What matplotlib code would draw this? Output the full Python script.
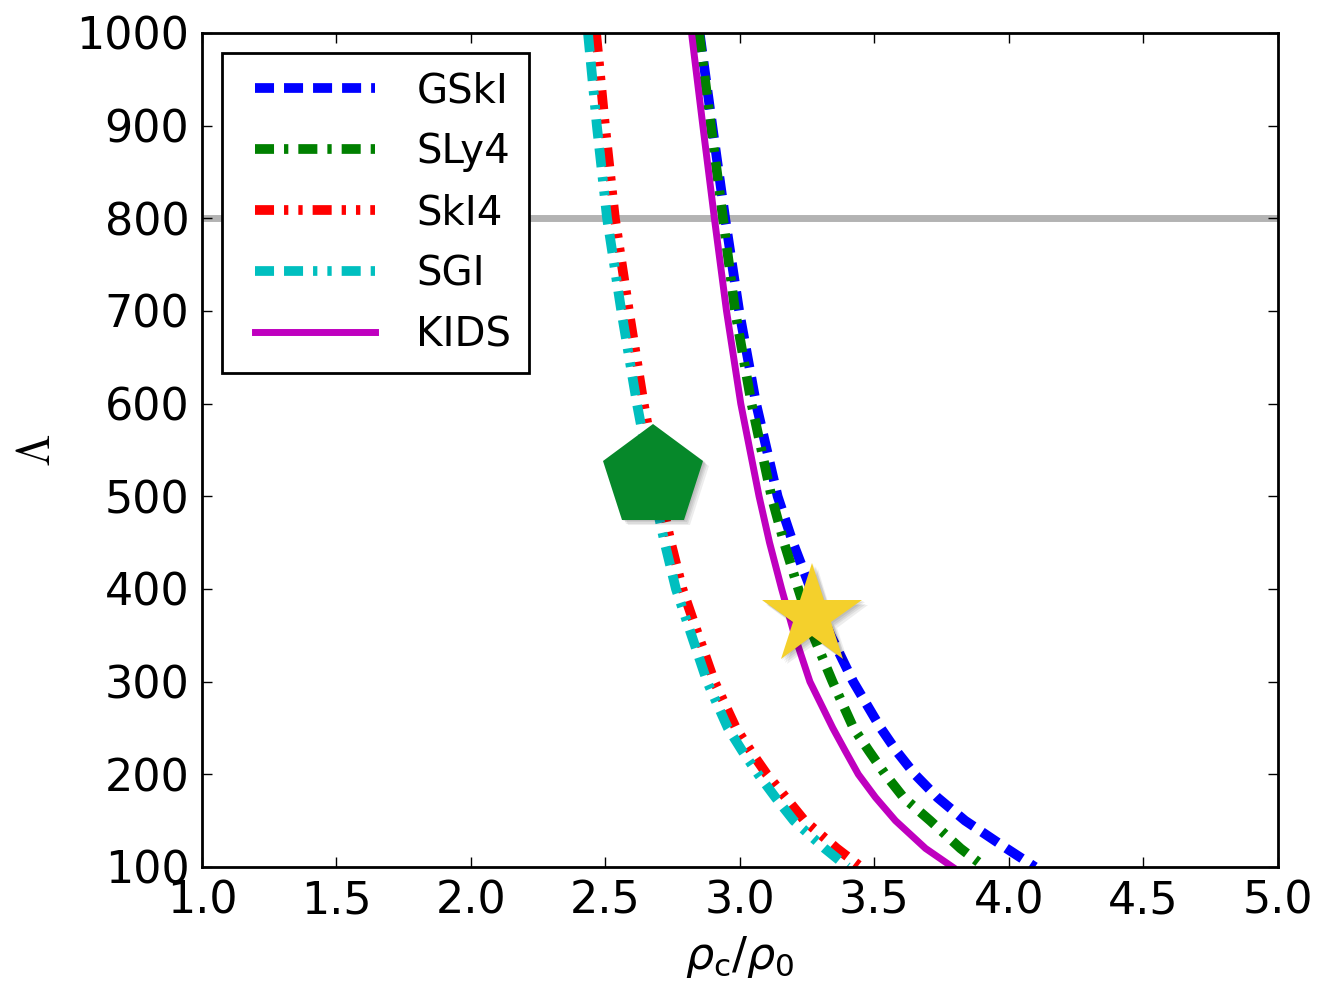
import matplotlib
matplotlib.use("Agg")
import matplotlib.pyplot as plt
import matplotlib.patheffects as pe
from matplotlib.legend_handler import HandlerLine2D

plt.rcParams['lines.scale_dashes'] = False
plt.rcParams['font.family'] = 'DejaVu Sans'
plt.rcParams['mathtext.fontset'] = 'dejavusans'

# tidal deformability grid and central density for each model
lam = [1000, 900, 800, 700, 600, 500, 450, 400, 350, 300, 250, 225, 200, 175, 150, 120, 100]
rho_gski = [2.850, 2.897, 2.945, 2.997, 3.060, 3.140, 3.197, 3.263, 3.337, 3.421, 3.523, 3.582, 3.650, 3.734, 3.837, 3.991, 4.097]
rho_sly4 = [2.848, 2.892, 2.937, 2.982, 3.043, 3.117, 3.164, 3.217, 3.272, 3.344, 3.422, 3.480, 3.540, 3.608, 3.707, 3.820, 3.910]
rho_ski4 = [2.465, 2.498, 2.535, 2.587, 2.642, 2.705, 2.743, 2.786, 2.845, 2.905, 2.985, 3.040, 3.100, 3.170, 3.240, 3.360, 3.450]
rho_sgi = [2.435, 2.468, 2.506, 2.559, 2.617, 2.682, 2.720, 2.762, 2.820, 2.878, 2.955, 3.009, 3.068, 3.132, 3.200, 3.315, 3.400]
rho_kids = [2.820, 2.862, 2.905, 2.950, 3.003, 3.071, 3.110, 3.155, 3.203, 3.260, 3.345, 3.392, 3.440, 3.504, 3.578, 3.690, 3.790]

lam_limit = 800
star_pt = (3.268, 371)
pent_pt = (2.677, 521)

fig = plt.figure(figsize=(13.21, 9.88), dpi=100)
ax = fig.add_axes([0.1529, 0.1225, 0.8145, 0.8441])

ax.axhline(lam_limit, color='#b3b3b3', lw=5, zorder=1)

ax.plot(rho_gski, lam, color='b', lw=7, dashes=(13.7, 7.2), dash_capstyle='butt', label='GSkI', zorder=2)
ax.plot(rho_sly4, lam, color='g', lw=7, dashes=(13.7, 7.2, 3.1, 7.2), dash_capstyle='butt', label='SLy4', zorder=2)
ax.plot(rho_ski4, lam, color='r', lw=7, dashes=(13.7, 7.2, 3.1, 7.2, 3.1, 7.2), dash_capstyle='butt', label='SkI4', zorder=2)
ax.plot(rho_sgi, lam, color='c', lw=7, dashes=(13.7, 7.2, 13.7, 7.2, 3.1, 7.2, 3.1, 7.2), dash_capstyle='butt', label='SGI', zorder=2)
ax.plot(rho_kids, lam, color='m', lw=5, label='KIDS', zorder=2)

# soft drop shadow under the two markers
shadow = [pe.SimplePatchShadow(offset=(d, -d), shadow_rgbFace='k', alpha=0.07) for d in (1, 2, 3, 4)]
shadow.append(pe.Normal())
ax.plot([star_pt[0]], [star_pt[1]], marker='*', ms=76, color='#f4d02c', mew=0, zorder=4,
        path_effects=shadow)
ax.plot([pent_pt[0]], [pent_pt[1]], marker='p', ms=76, color='#06882a', mew=0, zorder=4,
        path_effects=shadow)

ax.set_xlim(1.0, 5.0)
ax.set_ylim(100, 1000)
ax.set_xticks([1.0, 1.5, 2.0, 2.5, 3.0, 3.5, 4.0, 4.5, 5.0])
ax.set_yticks(range(100, 1001, 100))
ax.tick_params(direction='in', top=True, right=True, length=7, width=1, labelsize=32, pad=9)
for s in ax.spines.values():
    s.set_linewidth(2)

ax.set_xlabel(r'$\rho_{\mathrm{c}}/\rho_0$', fontsize=32, labelpad=8)
ax.set_ylabel(r'$\Lambda$', fontsize=34, math_fontfamily='cm', labelpad=12)

leg = ax.legend(loc='upper left', fontsize=29, handlelength=3.35, handletextpad=1.02,
                labelspacing=0.52, borderpad=0.45, borderaxespad=0.5,
                fancybox=False, framealpha=1,
                handler_map={plt.Line2D: HandlerLine2D(xpad=0.37)})
leg.get_frame().set_edgecolor('k')
leg.get_frame().set_linewidth(2)
leg.set_zorder(5)

fig.savefig('out.png', dpi=100)
